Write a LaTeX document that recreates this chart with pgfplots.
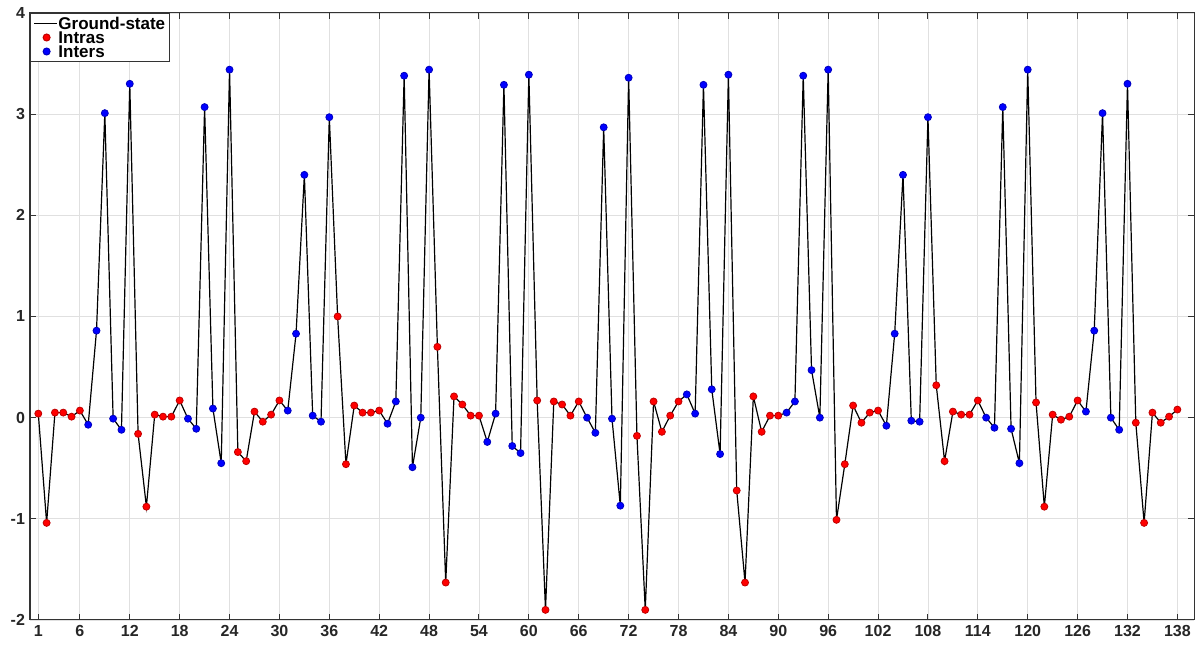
\documentclass[border=0pt]{standalone}
\usepackage{pgfplots}
\pgfplotsset{compat=1.18}
\usepackage{pgfplotstable}
\usepackage{fontspec}
\setmainfont{Liberation Sans}

\pgfplotsset{
  shortline/.style={legend image code/.code={\draw[##1] (0cm,0cm) -- (0.4cm,0cm);}},
  shortmark/.style={legend image code/.code={\draw[mark repeat=2, mark phase=2, ##1]
      plot coordinates {(0cm,0cm) (0.22cm,0cm) (0.4cm,0cm)};}}
}

\pgfplotstableread{
x y c
1 0.04 r
2 -1.04 r
3 0.05 r
4 0.05 r
5 0.01 r
6 0.07 r
7 -0.07 b
8 0.86 b
9 3.01 b
10 -0.01 b
11 -0.12 b
12 3.30 b
13 -0.16 r
14 -0.88 r
15 0.03 r
16 0.01 r
17 0.01 r
18 0.17 r
19 -0.01 b
20 -0.11 b
21 3.07 b
22 0.09 b
23 -0.45 b
24 3.44 b
25 -0.34 r
26 -0.43 r
27 0.06 r
28 -0.04 r
29 0.03 r
30 0.17 r
31 0.07 b
32 0.83 b
33 2.40 b
34 0.02 b
35 -0.04 b
36 2.97 b
37 1.00 r
38 -0.46 r
39 0.12 r
40 0.05 r
41 0.05 r
42 0.07 r
43 -0.06 b
44 0.16 b
45 3.38 b
46 -0.49 b
47 0.00 b
48 3.44 b
49 0.70 r
50 -1.63 r
51 0.21 r
52 0.13 r
53 0.02 r
54 0.02 r
55 -0.24 b
56 0.04 b
57 3.29 b
58 -0.28 b
59 -0.35 b
60 3.39 b
61 0.17 r
62 -1.90 r
63 0.16 r
64 0.13 r
65 0.02 r
66 0.16 r
67 0.00 b
68 -0.15 b
69 2.87 b
70 -0.01 b
71 -0.87 b
72 3.36 b
73 -0.18 r
74 -1.90 r
75 0.16 r
76 -0.14 r
77 0.02 r
78 0.16 r
79 0.23 b
80 0.04 b
81 3.29 b
82 0.28 b
83 -0.36 b
84 3.39 b
85 -0.72 r
86 -1.63 r
87 0.21 r
88 -0.14 r
89 0.02 r
90 0.02 r
91 0.05 b
92 0.16 b
93 3.38 b
94 0.47 b
95 0.00 b
96 3.44 b
97 -1.01 r
98 -0.46 r
99 0.12 r
100 -0.05 r
101 0.05 r
102 0.07 r
103 -0.08 b
104 0.83 b
105 2.40 b
106 -0.03 b
107 -0.04 b
108 2.97 b
109 0.32 r
110 -0.43 r
111 0.06 r
112 0.03 r
113 0.03 r
114 0.17 r
115 0.00 b
116 -0.10 b
117 3.07 b
118 -0.11 b
119 -0.45 b
120 3.44 b
121 0.15 r
122 -0.88 r
123 0.03 r
124 -0.02 r
125 0.01 r
126 0.17 r
127 0.06 b
128 0.86 b
129 3.01 b
130 0.00 b
131 -0.12 b
132 3.30 b
133 -0.05 r
134 -1.04 r
135 0.05 r
136 -0.05 r
137 0.01 r
138 0.08 r
}\gsdata

\begin{document}
\begin{tikzpicture}
\begin{axis}[
    scale only axis,
    width=582pt, height=303.5pt,
    xmin=0, xmax=140,
    ymin=-2, ymax=4,
    xtick={1,6,12,18,24,30,36,42,48,54,60,66,72,78,84,90,96,102,108,114,120,126,132,138},
    ytick={-2,-1,0,1,2,3,4},
    grid=major,
    grid style={black!12, line width=0.4pt},
    axis line style={black!80, line width=0.5pt},
    tick align=inside,
    major tick length=3pt,
    tick style={black!80, line width=0.5pt},
    ticklabel style={font=\bfseries\fontsize{8}{8}\selectfont, text=black!85},
    /pgf/number format/assume math mode=true,
    xticklabel style={yshift=1pt},
    yticklabel style={xshift=1pt},
    scatter/classes={
        r={mark=*, mark size=1.75pt, fill=red, draw=red!75!black},
        b={mark=*, mark size=1.75pt, fill=blue, draw=blue!75!black}},
    legend cell align=left,
    legend style={at={(0,1)}, anchor=north west, draw=black!80, line width=0.5pt,
        font=\bfseries\fontsize{8.5}{8.5}\selectfont, inner sep=1.5pt,
        row sep=0pt, nodes={inner sep=0.5pt, text height=6pt, text depth=0pt}},
]
\addplot[black, line width=0.6pt, mark=none, shortline]
    table[x=x, y=y] {\gsdata};
\addplot[scatter, only marks, scatter src=explicit symbolic, forget plot]
    table[x=x, y=y, meta=c] {\gsdata};
\addlegendimage{only marks, mark=*, mark size=1.75pt, fill=red, draw=red!75!black, shortmark}
\addlegendimage{only marks, mark=*, mark size=1.75pt, fill=blue, draw=blue!75!black, shortmark}
\legend{Ground-state, Intras, Inters}
\end{axis}
\path ([xshift=-15pt,yshift=-13pt]current axis.south west) rectangle ([xshift=3pt,yshift=6.5pt]current axis.north east);
\end{tikzpicture}
\end{document}
